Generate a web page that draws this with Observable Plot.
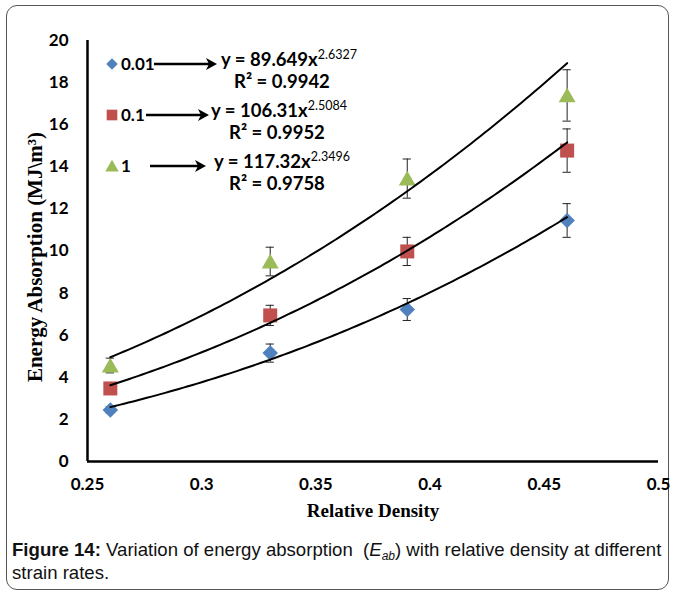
<!DOCTYPE html>
<html><head><meta charset="utf-8">
<script src="https://cdn.jsdelivr.net/npm/d3@7"></script>
<script src="https://cdn.jsdelivr.net/npm/@observablehq/plot@0.6"></script>
<style>
body{margin:0;background:#fff;}
#wrap{position:relative;width:676px;height:594px;overflow:hidden;background:#fff}
#frame{position:absolute;left:6px;top:5px;width:663px;height:585px;border:1px solid #555;border-radius:11px;box-sizing:border-box}
#chart{position:absolute;left:0;top:0}
#cap{position:absolute;left:12px;top:538px;width:664px;font:18.6px "Liberation Sans",Arial,sans-serif;line-height:23px;color:#111;white-space:nowrap}
#cap sub{font-size:12px;line-height:0;vertical-align:-4px}
</style></head>
<body>
<div id="wrap"><div id="frame"></div><div id="chart"></div>
<div id="cap"><b>Figure 14:</b> Variation of energy absorption&nbsp; (<i>E<sub>ab</sub></i>) with relative density at different<br>strain rates.</div>
</div>
<script>
const density = [0.26, 0.33, 0.39, 0.46];
const rates = ["0.01", "0.1", "1"];
const energy001 = [2.45, 5.15, 7.22, 11.45];
const energy01 = [3.47, 6.94, 9.98, 14.77];
const energy1 = [4.56, 9.5, 13.44, 17.39];
const err001 = [0.15, 0.43, 0.52, 0.8];
const err01 = [0.2, 0.48, 0.67, 1.03];
const err1 = [0.35, 0.68, 0.93, 1.22];
const fitA = [89.649, 106.31, 117.32];
const fitB = [2.6327, 2.5084, 2.3496];
const fitA_txt = ["89.649", "106.31", "117.32"];
const fitB_txt = ["2.6327", "2.5084", "2.3496"];
const r2_txt = ["0.9942", "0.9952", "0.9758"];
const xTicks = [0.25, 0.3, 0.35, 0.4, 0.45, 0.5];
const yTicks = [0, 2, 4, 6, 8, 10, 12, 14, 16, 18, 20];
const colors = ["#4F81BD", "#C0504D", "#9BBB59"];
const symbols = [d3.symbolDiamond2, d3.symbolSquare, d3.symbolTriangle];
const symR = [7, 7.9, 6.3];
const symDy = [0, 0, 2];

const energies = [energy001, energy01, energy1];
const errs = [err001, err01, err1];
const data = [];
rates.forEach((r, i) => density.forEach((x, j) => data.push({rate: r, s: i, x, y: energies[i][j], err: errs[i][j]})));
// trendline samples from displayed power-law fit equations
const trend = [];
rates.forEach((r, i) => {
  for (let k = 0; k <= 100; k++) {
    const x = density[0] + (density[density.length - 1] - density[0]) * k / 100;
    trend.push({rate: r, x, y: fitA[i] * Math.pow(x, fitB[i])});
  }
});
const capHalf = 0.0018;

const marks = [
  Plot.ruleX(data, {x: "x", y1: d => d.y - d.err, y2: d => d.y + d.err, stroke: "#222", strokeWidth: 1}),
  Plot.ruleY(data, {y: d => d.y + d.err, x1: d => d.x - capHalf, x2: d => d.x + capHalf, stroke: "#222", strokeWidth: 1}),
  Plot.ruleY(data, {y: d => d.y - d.err, x1: d => d.x - capHalf, x2: d => d.x + capHalf, stroke: "#222", strokeWidth: 1}),
];
rates.forEach((r, i) => {
  marks.push(Plot.dot(data.filter(d => d.s === i), {x: "x", y: "y", symbol: symbols[i], r: symR[i], dy: symDy[i], fill: colors[i], stroke: "none"}));
});
marks.push(Plot.line(trend, {x: "x", y: "y", z: "rate", stroke: "#000", strokeWidth: 2}));
marks.push(Plot.ruleX([0.25], {stroke: "#000", strokeWidth: 2.5}));
marks.push(Plot.ruleY([0], {stroke: "#000", strokeWidth: 2.5}));

const svg = Plot.plot({
  width: 676, height: 530,
  marginLeft: 87, marginRight: 18, marginTop: 40, marginBottom: 69,
  style: {fontFamily: "Lato, 'Liberation Sans', sans-serif", fontSize: "17px", fontWeight: "bold", color: "#000", background: "transparent"},
  x: {domain: [0.25, 0.5], ticks: xTicks, tickFormat: d => String(d), tickSize: 0, tickPadding: 16, label: null},
  y: {domain: [0, 20], ticks: yTicks, tickSize: 0, tickPadding: 19, label: null},
  marks
});
document.getElementById("chart").appendChild(svg);

const g = d3.select(svg).append("g").attr("text-anchor", "start");
// axis titles
g.append("text").attr("x", 373).attr("y", 517).attr("text-anchor", "middle")
  .style("font-family", "'Liberation Serif', 'Times New Roman', serif").style("font-weight", "bold").style("font-size", "19px")
  .text("Relative Density");
g.append("text").attr("transform", "translate(42,257) rotate(-90)").attr("text-anchor", "middle")
  .style("font-family", "'Liberation Serif', 'Times New Roman', serif").style("font-weight", "bold").style("font-size", "21px")
  .text("Energy Absorption (MJ\\m³)");

// legend annotation
const rowY = [64, 115, 166];
const arrowX = [[154, 217], [146, 209], [150, 206]];
const eqX = [221, 211, 214];
const r2X = [234, 229, 229];
const lf = "Lato, 'Liberation Sans', sans-serif";
rates.forEach((r, i) => {
  const y = rowY[i];
  const lr = [5.2, 6.0, 5.0][i];
  g.append("path").attr("d", d3.symbol(symbols[i], Math.PI * lr * lr)())
    .attr("transform", `translate(112,${y + symDy[i] * 0.8})`).attr("fill", colors[i]);
  g.append("text").attr("x", 121).attr("y", y + 6).attr("text-anchor", "start").style("font-family", lf).style("font-weight", "bold").style("font-size", "17px").text(r);
  const [x1, x2] = arrowX[i];
  g.append("line").attr("x1", x1).attr("x2", x2 - 8).attr("y1", y).attr("y2", y).attr("stroke", "#000").attr("stroke-width", 2.5);
  g.append("path").attr("d", `M${x2},${y}L${x2 - 11},${y - 6}L${x2 - 8},${y}L${x2 - 11},${y + 6}Z`).attr("fill", "#000");
  const t = g.append("text").attr("x", eqX[i]).attr("y", y + 2).attr("text-anchor", "start").style("font-family", lf).style("font-weight", "bold").style("font-size", "18.5px");
  t.append("tspan").text(`y = ${fitA_txt[i]}x`);
  t.append("tspan").attr("dy", -7).style("font-size", "12.5px").style("font-weight", "normal").text(fitB_txt[i]);
  g.append("text").attr("x", r2X[i]).attr("y", y + 24).attr("text-anchor", "start").style("font-family", lf).style("font-weight", "bold").style("font-size", "18.5px")
    .text(`R² = ${r2_txt[i]}`);
});
</script>
</body></html>
